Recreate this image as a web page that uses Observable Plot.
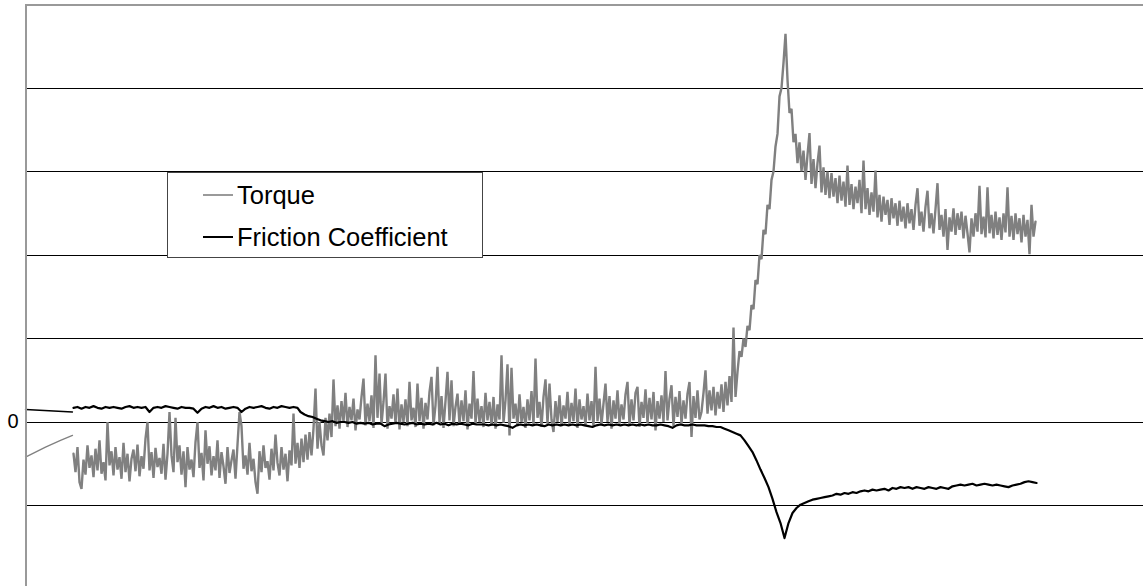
<!DOCTYPE html>
<html><head><meta charset="utf-8">
<script src="https://cdn.jsdelivr.net/npm/d3@7"></script>
<script src="https://cdn.jsdelivr.net/npm/@observablehq/plot@0.6"></script>
<style>
html,body{margin:0;padding:0;background:#fff;}
#wrap{position:relative;width:1143px;height:586px;overflow:hidden;font-family:"Liberation Sans",Arial,sans-serif;}
#legend{position:absolute;left:167px;top:172px;width:316px;height:86px;box-sizing:border-box;border:1px solid #444;background:#fff;}
.sw{position:absolute;left:35px;width:30px;height:2px;}
.lb{position:absolute;left:69px;font-size:25.5px;line-height:25px;color:#000;white-space:nowrap;}
</style></head><body><div id="wrap"></div>
<script>
// Sample index (time) runs continuously (gridline = 100 units)
const STEP_T = 2;      // torque sample spacing
const STEP_F = 4;      // friction sample spacing

// Lead-in portion (before the test starts)
const torqueLeadT = [25, 45, 60, 72];
const torqueLeadV = [-42, -30, -22, -16];
const frictionLeadT = [25, 72];
const frictionLeadV = [15, 12];

// Torque segments: [start sample, values]
const torqueA_start = 73;
const torqueA = [
 -38,-60,-30,-72,-80,-45,-63,-28,-55,-40,
 -66,-32,-58,-22,-62,-48,-70,0,-52,-35,
 -64,-30,-57,-42,-68,-25,-60,-38,-71,-44,
 -33,-59,-27,-65,-41,-56,-20,0,-58,-36,
 -67,-31,-54,-43,-62,-26,-69,-38,12,-40,
 -60,5,-48,-28,-63,-35,-78,-30,-57,-45,
 -66,-24,0,-55,-37,-70,-10,-50,-29,-64,
 -41,-58,-22,-67,-36,-53,-74,-30,-61,-46,
 -33,-68,-27,12,-5,-56,-40,-63,-25,-59,
 -44,-72,-86,-35,-60,-28,-55,-47,-69,-32,
 -58,-15,-49,-64,-30,-57,-38,-71,-34,-52];
const torqueB_start = 293;
const torqueB = [10,-50,-25,-55,-20,-48,-15,-45,-12,-40,-8,40,-32,0,-28,-40,5,-22,10,-18];
const torqueC_start = 333;
const torqueC = [
 51,-5,20,-8,25,0,35,-6,18,2,
 28,-10,15,3,30,52,-4,22,1,32,
 -7,80,5,58,-3,24,58,-8,19,4,
 33,-2,40,-9,21,0,27,-5,48,2,
 17,-6,46,1,29,-8,23,3,36,54,
 -4,20,66,-1,31,-7,25,60,2,50,
 -5,18,34,-3,26,1,38,-9,22,4,
 61,-2,28,0,19,-6,35,2,24,-4,
 30,-8,21,3,80,-1,26,69,-16,65,
 4,22,-5,33,0,18,-7,27,2,37,
 -3,76,5,24,-6,30,51,-2,46,3,
 -12,25,0,32,-5,20,4,36,-3,23,
 1,40,-7,27,3,19,-4,34,2,25,
 -6,66,1,28,-3,22,46,0,31,-8,
 26,4,38,-2,21,3,33,48,-4,27,
 2,35,42,-6,24,5,39,-1,29,3,
 36,-10,25,4,32,0,61,2,28,44,
 -5,30,6,37,-2,26,4,34,48,-18,
 31,5,38,3];
const torqueD_start = 701;
const torqueD = [12,35,62,10,38,14,42,8,36,16,45,12,48,20,55,24,113,30];
const torqueRise_start = 737;
const torqueRise = [60,85,78,100,90,115,110,140,135,170,165,200,195,230,225,260,255,290,300,330,345,390,400,430,465];
const torqueDecay_start = 787;
const torqueDecay = [
 410,370,375,335,345,310,335,300,325,290,
 320,346,285,315,280,310,331,275,305,272,
 300,268,298,270,292,262,295,265,288,258,
 307,260,285,255,282,262,290,250,313,255,
 280,248,275,252,301,245,272,240,270,248,
 266,236,268,244,262,235,265,240,258,232,
 262,238,255,230,260,280,235,252,228,258,
 277,232,250,226,255,286,230,248,222,255,
 206,245,228,256,224,250,230,252,220,247,
 226,203,244,222,250,228,283,225,246,221,
 281,226,248,220,252,224,245,218,250,227,
 281,222,247,218,250,225,244,215,248,222,
 242,201,260,222,240];

// Friction coefficient segments
const frictionA_start = 73;
const frictionA = [
 17,18,16,18,17,19,17,16,18,17,
 18,17,16,18,19,17,18,17,18,12,
 17,18,17,19,18,17,16,18,17,17,
 16,11,16,18,17,19,17,18,16,17,
 18,17,12,16,18,17,18,19,17,16,
 18,17,19,18,17,18,17];
const frictionB_start = 300;
const frictionB = [12,9,7,6,4,2,1,0,1,-1,0,0,-1,0,-2,-1,-2,-1,-3,-2,-2,-5,-3,-2,-1,-2,-3,-2,-1,-3,-2,-3,-2,-3,-1,-3,-2,-4,-2,-3,-2,-3,-4,-2,-3,-3];
const frictionC_start = 484;
const frictionC = [
 -3,-4,-3,-4,-3,-4,-5,-7,-4,-3,
 -4,-3,-4,-3,-4,-5,-3,-4,-3,-4,
 -3,-4,-3,-4,-3,-4,-5,-6,-4,-3,
 -4,-3,-4,-3,-4,-3,-4,-3,-4,-3,
 -4,-3,-4,-4,-3,-4,-5,-7,-4,-3,
 -4,-4,-3,-4,-4];
const frictionD_start = 704;
const frictionD = [-4,-5,-5,-6,-6,-8,-10,-12,-14,-16,-22,-29,-36,-46,-57,-67,-78,-92,-108,-121,-139];
const frictionE_start = 788;
const frictionE = [
 -121,-109,-103,-99,-97,-95,-93,-92,-91,-90,
 -89,-88,-86,-87,-85,-86,-84,-85,-83,-82,
 -83,-81,-82,-81,-80,-82,-79,-80,-78,-79,
 -78,-80,-78,-79,-80,-78,-79,-80,-78,-79,
 -80,-77,-76,-75,-76,-75,-74,-76,-75,-74,
 -75,-76,-75,-76,-77,-78,-76,-75,-74,-72,
 -71,-72,-73];

const gridValues = [-100, 0, 100, 200, 300, 400];
const tickLabels = [0];
const seriesNames = ["Torque", "Friction Coefficient"];
const seriesColors = ["#808080", "#000000"];

function seg(start, step, vals) { return vals.map((v, i) => ({t: start + i * step, v})); }
function pairs(ts, vs) { return ts.map((t, i) => ({t, v: vs[i]})); }

const torque = [].concat(
  seg(torqueA_start, STEP_T, torqueA), seg(torqueB_start, STEP_T, torqueB),
  seg(torqueC_start, STEP_T, torqueC), seg(torqueD_start, STEP_T, torqueD),
  seg(torqueRise_start, STEP_T, torqueRise), seg(torqueDecay_start, STEP_T, torqueDecay));
const friction = [].concat(
  seg(frictionA_start, STEP_F, frictionA), seg(frictionB_start, STEP_F, frictionB),
  seg(frictionC_start, STEP_F, frictionC), seg(frictionD_start, STEP_F, frictionD),
  seg(frictionE_start, STEP_F, frictionE));

const chart = Plot.plot({
  width: 1143, height: 586,
  marginLeft: 25, marginRight: 0, marginTop: 4, marginBottom: 0,
  x: {domain: [25, 1143], axis: null},
  y: {domain: [-197, 500], axis: null},
  style: {fontFamily: '"Liberation Sans", Arial, sans-serif', fontSize: "20px", background: "#fff", color: "#000"},
  marks: [
    Plot.ruleY(gridValues, {stroke: "#000", strokeWidth: 1, shapeRendering: "crispEdges"}),
    Plot.line(pairs(torqueLeadT, torqueLeadV), {x: "t", y: "v", stroke: seriesColors[0], strokeWidth: 1.3}),
    Plot.line(torque, {x: "t", y: "v", stroke: seriesColors[0], strokeWidth: 2.4, strokeLinejoin: "miter"}),
    Plot.line(pairs(frictionLeadT, frictionLeadV), {x: "t", y: "v", stroke: seriesColors[1], strokeWidth: 1.3}),
    Plot.line(friction, {x: "t", y: "v", stroke: seriesColors[1], strokeWidth: 2.2}),
    Plot.ruleY([500], {stroke: "#999", strokeWidth: 2, shapeRendering: "crispEdges"}),
    Plot.ruleX([25], {stroke: "#999", strokeWidth: 2, shapeRendering: "crispEdges"}),
    Plot.text(tickLabels, {y: d => d, text: d => String(d), frameAnchor: "left", dx: -7, textAnchor: "end", fontSize: 20, fill: "#000"})
  ]
});
const wrap = document.getElementById("wrap");
wrap.appendChild(chart);

const legend = document.createElement("div");
legend.id = "legend";
const rowTops = [22, 64];
seriesNames.forEach((name, i) => {
  const sw = document.createElement("div");
  sw.className = "sw";
  sw.style.top = (rowTops[i] - 1) + "px";
  sw.style.background = i === 0 ? "#9a9a9a" : seriesColors[i];
  sw.style.height = i === 0 ? "1.5px" : "2px";
  legend.appendChild(sw);
  const lb = document.createElement("span");
  lb.className = "lb";
  lb.style.top = (rowTops[i] - 12.5) + "px";
  lb.textContent = name;
  legend.appendChild(lb);
});
wrap.appendChild(legend);
</script>
</body></html>
